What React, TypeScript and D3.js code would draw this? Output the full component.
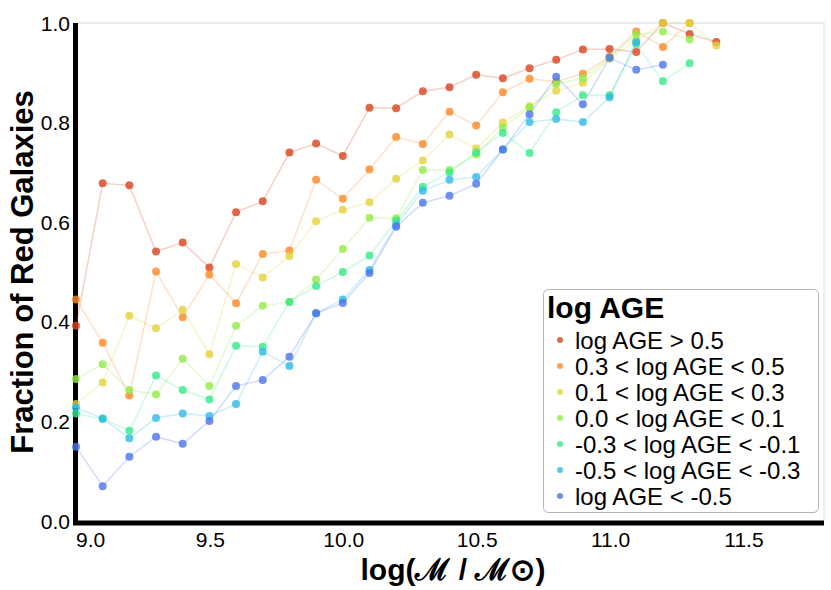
import { useCallback, useEffect, useRef } from 'react';

import { line, scaleLinear, select } from 'd3';

// stellar mass bins, log(M / Msun)
const massBins = [
  9.0, 9.1, 9.2, 9.3, 9.4, 9.5, 9.6, 9.7, 9.8, 9.9, 10.0, 10.1, 10.2, 10.3,
  10.4, 10.5, 10.6, 10.7, 10.8, 10.9, 11.0, 11.1, 11.2, 11.3, 11.4,
];

const ageOld = [
  0.392, 0.678, 0.674, 0.541, 0.559, 0.509, 0.62, 0.642, 0.74, 0.758, 0.733,
  0.83, 0.829, 0.863, 0.871, 0.896, 0.889, 0.909, 0.926, 0.947, 0.948, 0.942,
  1.0, 0.978, 0.962,
];
const age03to05 = [
  0.445, 0.358, 0.252, 0.501, 0.409, 0.495, 0.437, 0.536, 0.543, 0.685, 0.647,
  0.706, 0.771, 0.757, 0.822, 0.794, 0.861, 0.888, 0.882, 0.898, 0.932, 0.983,
  0.952, 1.0,
];
const age01to03 = [
  0.235, 0.278, 0.412, 0.387, 0.424, 0.335, 0.516, 0.489, 0.532, 0.602, 0.625,
  0.64, 0.687, 0.724, 0.776, 0.748, 0.8, 0.833, 0.864, 0.88, 0.928, 0.965, 1.0,
  1.0, 0.955,
];
const age00to01 = [
  0.285, 0.315, 0.263, 0.254, 0.326, 0.271, 0.392, 0.432, 0.44, 0.485, 0.546,
  0.609, 0.608, 0.705, 0.705, 0.736, 0.79, 0.83, 0.878, 0.889, 0.93, 0.977,
  0.983, 0.967,
];
const ageM03toM01 = [
  0.216, 0.205, 0.181, 0.292, 0.263, 0.244, 0.352, 0.35, 0.44, 0.472, 0.5,
  0.533, 0.603, 0.671, 0.7, 0.74, 0.779, 0.739, 0.821, 0.855, 0.855, 0.958,
  0.883, 0.919,
];
const ageM05toM03 = [
  0.228, 0.206, 0.166, 0.207, 0.216, 0.211, 0.235, 0.34, 0.311, 0.417, 0.445,
  0.504, 0.595, 0.663, 0.685, 0.691, 0.746, 0.801, 0.807, 0.801, 0.851, 0.962,
];
const ageYoung = [
  0.149, 0.07, 0.129, 0.169, 0.155, 0.201, 0.271, 0.283, 0.33, 0.417, 0.438,
  0.498, 0.591, 0.639, 0.653, 0.677, 0.746, 0.817, 0.892, 0.837, 0.93, 0.906,
  0.916,
];

const labels = [
  'log AGE > 0.5',
  '0.3 < log AGE < 0.5',
  '0.1 < log AGE < 0.3',
  '0.0 < log AGE < 0.1',
  '-0.3 < log AGE < -0.1',
  '-0.5 < log AGE < -0.3',
  'log AGE < -0.5',
];
const colors = [
  'rgb(216,68,30)',
  'rgb(251,136,39)',
  'rgb(226,211,56)',
  'rgb(146,236,71)',
  'rgb(54,234,136)',
  'rgb(46,186,231)',
  'rgb(76,116,236)',
];
const seriesValues = [
  ageOld,
  age03to05,
  age01to03,
  age00to01,
  ageM03toM01,
  ageM05toM03,
  ageYoung,
];

const xTicks = [9.0, 9.5, 10.0, 10.5, 11.0, 11.5];
const yTicks = [0.0, 0.2, 0.4, 0.6, 0.8, 1.0];

type Pt = [number, number];

export default function App() {
  const containerRef = useRef<HTMLDivElement>(null);

  const initChart = useCallback(() => {
    const container = containerRef.current;
    if (!container) return;

    const width = 831,
      height = 590,
      left = 76,
      right = 823,
      top = 23,
      bottom = 521;
    const font = '"Liberation Sans", Arial, Helvetica, sans-serif';

    const div = select(container);
    div.select('svg').remove();

    const svg = div
      .append('svg')
      .attr('width', width)
      .attr('height', height)
      .style('display', 'block')
      .attr('font-family', font);

    const x = scaleLinear().domain([9.0, 11.8]).range([left, right]);
    const y = scaleLinear().domain([0, 1]).range([bottom, top]);

    // frame: faint top/right, heavy left/bottom
    svg
      .append('path')
      .attr('d', `M${left},${top}H${right + 1}V${bottom}`)
      .attr('fill', 'none')
      .attr('stroke', '#e6e6e6')
      .attr('stroke-width', 1.5);
    svg
      .append('path')
      .attr('d', `M${left - 0.5},${top}V${bottom + 2}H${right + 1}`)
      .attr('fill', 'none')
      .attr('stroke', 'black')
      .attr('stroke-width', 5);

    // tick labels
    svg
      .append('g')
      .attr('font-size', 21)
      .selectAll('text')
      .data(yTicks)
      .join('text')
      .attr('x', left - 6)
      .attr('y', (d) => y(d) + 7.5)
      .attr('text-anchor', 'end')
      .text((d) => d.toFixed(1));

    svg
      .append('g')
      .attr('font-size', 21)
      .selectAll('text')
      .data(xTicks)
      .join('text')
      .attr('x', (d, i) => (i === 0 ? x(d) : x(d) + 1))
      .attr('y', bottom + 26)
      .attr('text-anchor', (d, i) => (i === 0 ? 'start' : 'middle'))
      .text((d) => d.toFixed(1));

    // axis titles
    svg
      .append('text')
      .attr('x', 453)
      .attr('y', 580)
      .attr('text-anchor', 'middle')
      .attr('font-size', 30)
      .attr('font-weight', 700)
      .text('log(ℳ / ℳ⊙)');
    svg
      .append('text')
      .attr('transform', 'translate(33,272) rotate(-90)')
      .attr('text-anchor', 'middle')
      .attr('font-size', 31)
      .attr('font-weight', 700)
      .text('Fraction of Red Galaxies');

    // series lines and points
    const path = line<Pt>()
      .x((d) => x(d[0]))
      .y((d) => y(d[1]));

    seriesValues.forEach((vals, i) => {
      const pts: Pt[] = vals.map((v, j) => [massBins[j], v]);
      const g = svg.append('g');
      g.append('path')
        .attr('d', path(pts))
        .attr('fill', 'none')
        .attr('stroke', colors[i])
        .attr('stroke-opacity', 0.25)
        .attr('stroke-width', 1.5);
      g.selectAll('circle')
        .data(pts)
        .join('circle')
        .attr('cx', (d) => x(d[0]))
        .attr('cy', (d) => y(d[1]))
        .attr('r', 4)
        .attr('fill', colors[i])
        .attr('fill-opacity', 0.8);
    });

    // legend
    const legend = svg.append('g');
    legend
      .append('rect')
      .attr('x', 543.5)
      .attr('y', 289.5)
      .attr('width', 275)
      .attr('height', 223)
      .attr('rx', 5)
      .attr('fill', 'white')
      .attr('stroke', '#b4b4b4');
    legend
      .append('text')
      .attr('x', 547)
      .attr('y', 318)
      .attr('font-size', 30)
      .attr('font-weight', 700)
      .text('log AGE');
    const rows = legend
      .selectAll('g.row')
      .data(labels)
      .join('g')
      .attr('class', 'row')
      .attr('transform', (d, i) => `translate(560,${340 + i * 26})`);
    rows
      .append('circle')
      .attr('r', 3)
      .attr('fill', (d, i) => colors[i])
      .attr('fill-opacity', 0.8);
    rows
      .append('text')
      .attr('x', 15)
      .attr('y', 8.5)
      .attr('font-size', 24)
      .text((d) => d);
  }, []);

  const destroyChart = useCallback(() => {
    const container = containerRef.current;
    if (!container) return;
    select(container).select('svg').remove();
  }, []);

  useEffect(() => {
    initChart();
    return destroyChart;
  }, [destroyChart, initChart]);

  return (
    <div
      ref={containerRef}
      style={{ position: 'absolute', left: 0, top: 0, background: 'white' }}
    />
  );
}
